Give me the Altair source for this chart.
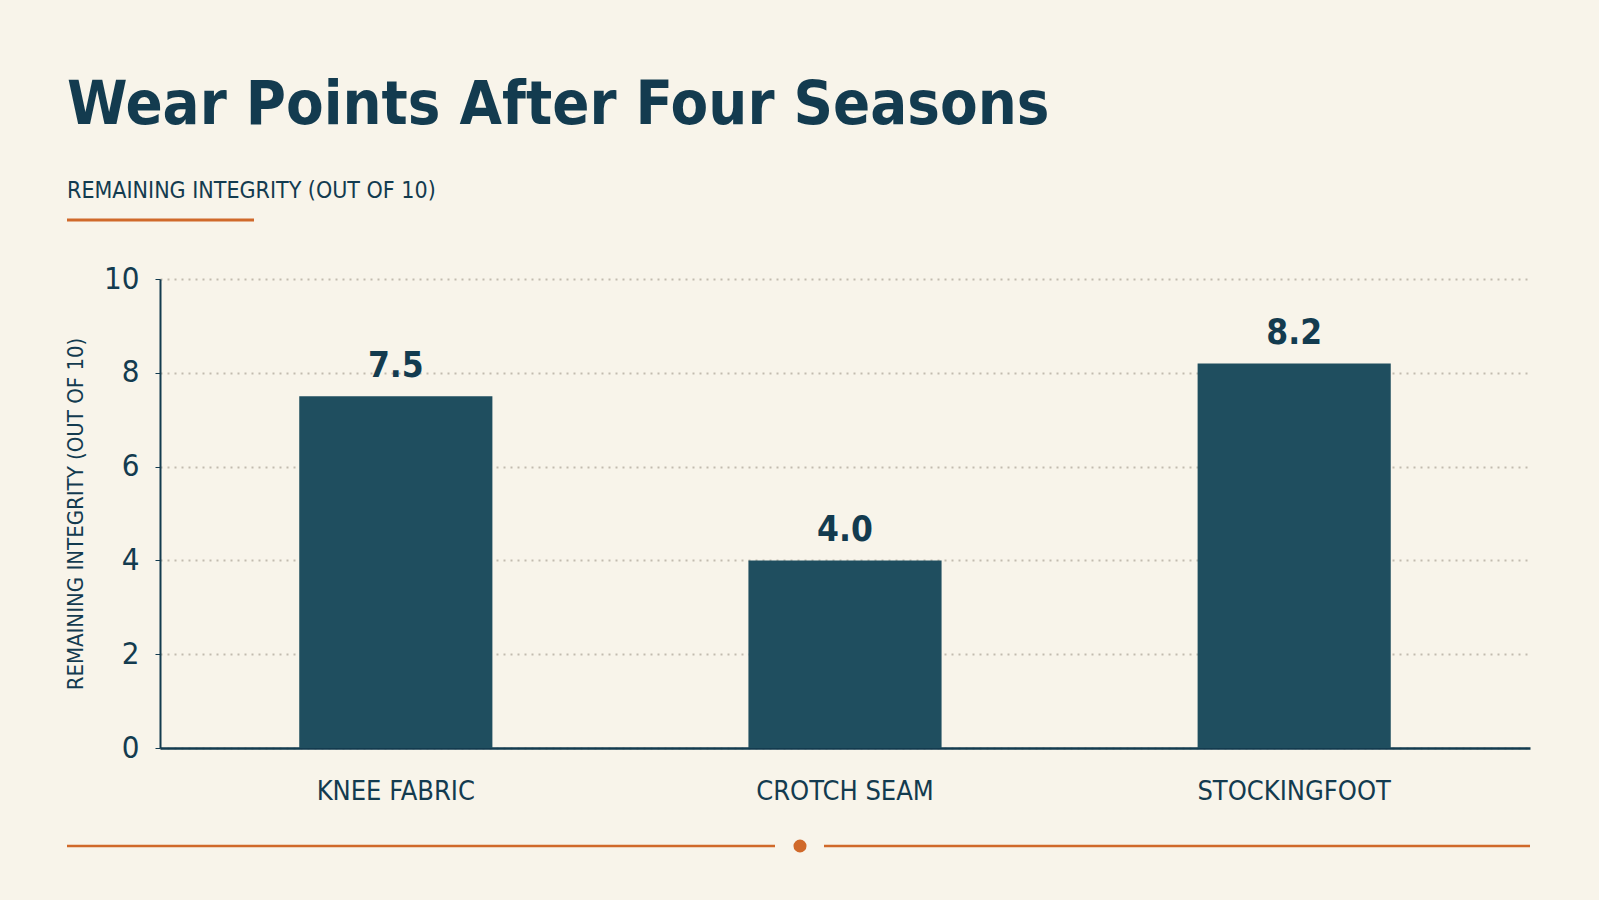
import altair as alt
import pandas as pd

categories = ["KNEE FABRIC", "CROTCH SEAM", "STOCKINGFOOT"]
values = [7.5, 4.0, 8.2]
labels = ["7.5", "4.0", "8.2"]
y_ticks = [0, 2, 4, 6, 8, 10]

title_text = "Wear Points After Four Seasons"
subtitle_text = "REMAINING INTEGRITY (OUT OF 10)"
y_title = "REMAINING INTEGRITY (OUT OF 10)"

BG = "#F8F4EA"
NAVY = "#133B4F"
BAR = "#1F4E5F"
ORANGE = "#D0692A"
GRID = "#C2BBAF"
FONT = "DejaVu Sans Condensed, DejaVu Sans, sans-serif"

df = pd.DataFrame({"cat": categories, "val": values, "lab": labels})

W, H = 1370, 469

x_enc = alt.X("cat:N", sort=categories, title=None,
              scale=alt.Scale(paddingInner=0.57, paddingOuter=0.31),
              axis=alt.Axis(labelFont=FONT, labelFontSize=27, labelColor=NAVY,
                            labelPadding=30, ticks=False, domainColor=NAVY,
                            domainWidth=2.5, labelAngle=0, grid=False,
                            labelLimit=0))
y_enc = alt.Y("val:Q", title=y_title,
              scale=alt.Scale(domain=[0, 10], nice=False),
              axis=alt.Axis(values=y_ticks, labelFont=FONT, labelFontSize=31,
                            labelColor=NAVY, labelPadding=16, tickSize=5,
                            tickColor=NAVY, domainColor=NAVY, domainWidth=2,
                            grid=True, gridColor=GRID, gridDash=[2, 5],
                            gridWidth=1.8, titleFont=FONT, titleFontSize=22,
                            titleFontWeight="normal", titleColor=NAVY,
                            titleX=-85, titleY=H / 2, titleAngle=270,
                            titleAlign="center", titleBaseline="middle"))

bars = alt.Chart(df).mark_bar(color=BAR).encode(x=x_enc, y=y_enc)
texts = alt.Chart(df).mark_text(font=FONT, fontSize=35, fontWeight="bold",
                                color=NAVY, baseline="bottom", dy=-12).encode(
    x=alt.X("cat:N", sort=categories), y="val:Q", text="lab:N")

title = alt.Chart(pd.DataFrame({"t": [title_text]})).mark_text(
    font=FONT, fontSize=61, fontWeight="bold", color=NAVY,
    align="left", baseline="alphabetic").encode(
    x=alt.value(-93), y=alt.value(-155), text="t:N")
subtitle = alt.Chart(pd.DataFrame({"t": [subtitle_text]})).mark_text(
    font=FONT, fontSize=23, color=NAVY, align="left",
    baseline="alphabetic").encode(
    x=alt.value(-93), y=alt.value(-81), text="t:N")
underline = alt.Chart(pd.DataFrame({"a": [0]})).mark_rule(
    color=ORANGE, strokeWidth=3).encode(
    x=alt.value(-93), x2=alt.value(94), y=alt.value(-59))

line_l = alt.Chart(pd.DataFrame({"a": [0]})).mark_rule(
    color=ORANGE, strokeWidth=2.5).encode(
    x=alt.value(-93), x2=alt.value(615), y=alt.value(567))
line_r = alt.Chart(pd.DataFrame({"a": [0]})).mark_rule(
    color=ORANGE, strokeWidth=2.5).encode(
    x=alt.value(664), x2=alt.value(1370), y=alt.value(567))
dot = alt.Chart(pd.DataFrame({"a": [0]})).mark_point(
    filled=True, color=ORANGE, opacity=1, size=170, shape="circle").encode(
    x=alt.value(640), y=alt.value(567))

chart = alt.layer(bars, texts, title, subtitle, underline, line_l, line_r, dot).properties(
    width=W, height=H, background=BG,
    autosize=alt.AutoSizeParams(type="none"),
    padding={"left": 160, "top": 279, "right": 69, "bottom": 152},
).configure_view(stroke=None)

chart.save("out.html", embed_options={"renderer": "svg", "actions": False})
